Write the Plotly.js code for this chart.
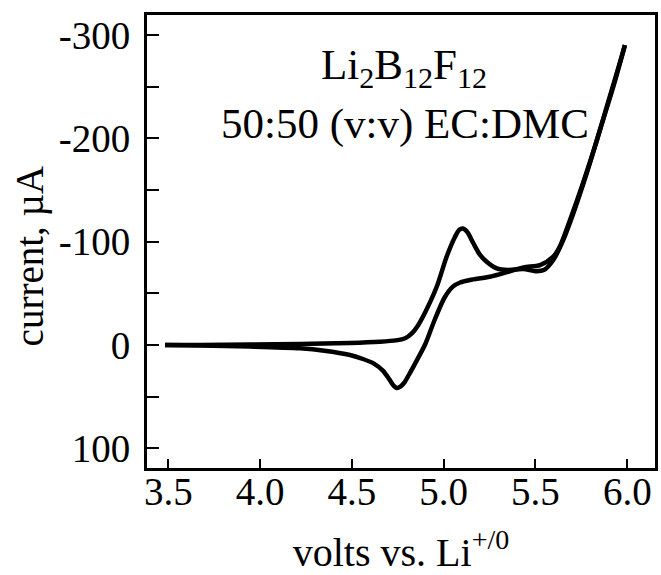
<!DOCTYPE html>
<html>
<head>
<meta charset="utf-8">
<script src="https://cdn.plot.ly/plotly-3.0.1.min.js"></script>
<style>html,body{margin:0;padding:0;background:#fff;}#chart{width:661px;height:575px;}</style>
</head>
<body>
<div id="chart"></div>
<script>
// Cyclic voltammogram: forward (anodic) scan, then return scan
const forwardVolts = [3.482, 3.673, 3.945, 4.217, 4.489, 4.652, 4.740, 4.790, 4.825, 4.860, 4.900, 4.962, 5.016, 5.062, 5.085, 5.105, 5.130, 5.160, 5.195, 5.234, 5.289, 5.352, 5.434, 5.500, 5.545, 5.597, 5.651, 5.706, 5.779, 5.851, 5.924, 5.987];
const forwardCurrent = [0, 0, -0.5, -1, -2, -3.2, -4.5, -6.5, -11, -19, -32, -56.4, -85.5, -104.8, -111.5, -112.8, -109, -99, -88, -80.6, -74.2, -72.6, -73.5, -71.5, -72.5, -82.3, -101.6, -127.4, -166.2, -208.1, -250.0, -290.3];
const returnVolts = [5.987, 5.972, 5.907, 5.835, 5.759, 5.688, 5.634, 5.597, 5.525, 5.434, 5.352, 5.252, 5.143, 5.090, 5.050, 5.005, 4.950, 4.900, 4.850, 4.810, 4.785, 4.762, 4.745, 4.728, 4.705, 4.670, 4.620, 4.560, 4.490, 4.350, 4.217, 3.945, 3.673, 3.482];
const returnCurrent = [-290.3, -280.6, -241.9, -198.4, -156.8, -121.0, -95.8, -85.5, -77.4, -75.2, -70.9, -66.1, -62.9, -60.5, -56.5, -46, -24, -1, 16, 29, 36.5, 40.5, 41.5, 39.5, 33.5, 25, 18, 13.5, 9.7, 5.5, 3.2, 1.5, 0.5, 0];

const xTickVals = [3.5, 4.0, 4.5, 5.0, 5.5, 6.0];
const xTickText = ['3.5', '4.0', '4.5', '5.0', '5.5', '6.0'];
const yTickVals = [-300, -200, -100, 0, 100];
const yTickText = ['-300', '-200', '-100', '0', '100'];
const xRange = [3.384, 6.151];

const lineStyle = {color: '#000', width: 4.5, shape: 'spline', smoothing: 0.8};
const traces = [
  {x: forwardVolts, y: forwardCurrent, xaxis: 'x', yaxis: 'y', type: 'scatter', mode: 'lines', line: lineStyle, hoverinfo: 'skip', showlegend: false},
  {x: returnVolts, y: returnCurrent, xaxis: 'x2', yaxis: 'y', type: 'scatter', mode: 'lines', line: lineStyle, hoverinfo: 'skip', showlegend: false}
];

const font = {family: '"Liberation Serif", "Times New Roman", serif', size: 39, color: '#000'};
const noteFont = {family: '"Liberation Serif", "Times New Roman", serif', size: 43, color: '#000'};

const layout = {
  width: 661, height: 575,
  margin: {l: 147, r: 6, t: 15, b: 107},
  paper_bgcolor: '#fff', plot_bgcolor: '#fff',
  font: font,
  showlegend: false,
  // frame axis: line and inward ticks
  xaxis: {
    range: xRange,
    tickmode: 'array', tickvals: xTickVals, ticktext: xTickText,
    showticklabels: false,
    ticks: 'inside', ticklen: 9, tickwidth: 2, tickcolor: '#000',
    showline: true, linewidth: 3, linecolor: '#000', mirror: true,
    showgrid: false, zeroline: false
  },
  // same scale; carries the tick labels and the title
  xaxis2: {
    overlaying: 'x', anchor: 'free', position: 0.007, side: 'bottom',
    range: xRange,
    tickmode: 'array', tickvals: xTickVals, ticktext: xTickText,
    ticks: '', showline: false, showgrid: false, zeroline: false,
    tickfont: font,
    title: {text: 'volts vs. Li<sup>+/0</sup>', font: {family: font.family, size: 40, color: '#000'}}
  },
  yaxis: {
    range: [119, -319.4],
    tickmode: 'array', tickvals: yTickVals, ticktext: yTickText,
    ticks: 'inside', ticklen: 12, tickwidth: 2, tickcolor: '#000',
    minor: {dtick: 50, ticks: 'inside', ticklen: 12, tickwidth: 2, tickcolor: '#000', showgrid: false},
    showline: true, linewidth: 3, linecolor: '#000', mirror: true,
    showgrid: false, zeroline: false,
    ticklabelstandoff: 6,
    tickfont: font,
    title: {text: 'current, µA&nbsp;&nbsp;&nbsp;', font: font, standoff: 4}
  },
  annotations: [
    {text: 'Li<sub>2</sub>B<sub>12</sub>F<sub>12</sub>', xref: 'paper', yref: 'paper', x: 0.505, y: 0.882, xanchor: 'center', yanchor: 'middle', showarrow: false, font: noteFont},
    {text: '50:50 (v:v) EC:DMC', xref: 'paper', yref: 'paper', x: 0.508, y: 0.76, xanchor: 'center', yanchor: 'middle', showarrow: false, font: noteFont}
  ]
};

Plotly.newPlot('chart', traces, layout, {staticPlot: true, displayModeBar: false});
</script>
</body>
</html>
